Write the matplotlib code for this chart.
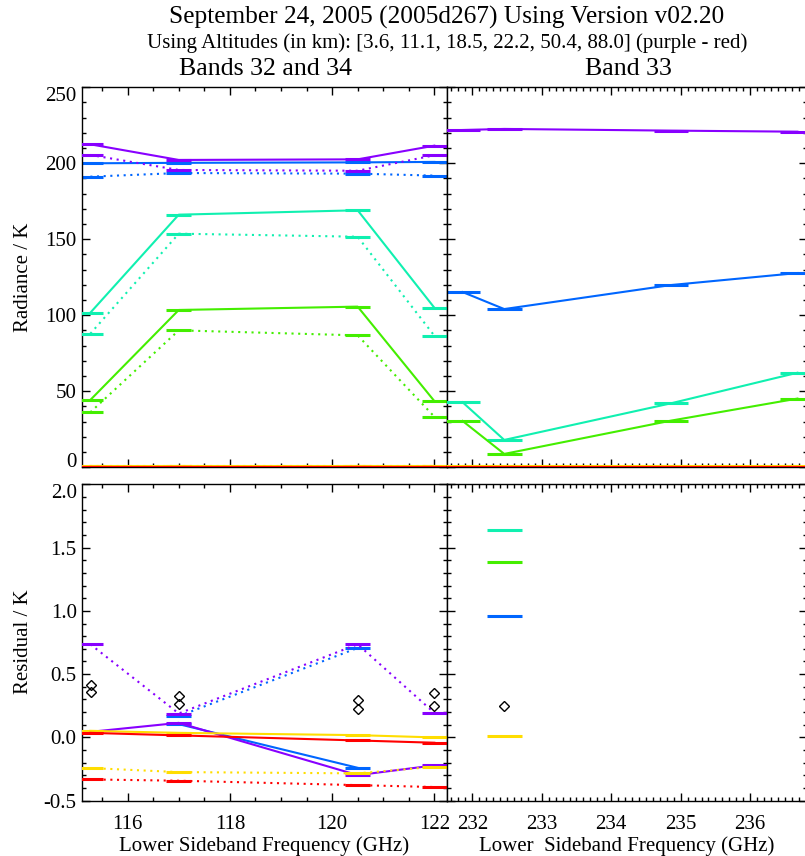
import numpy as np
import matplotlib
matplotlib.use("Agg")
import matplotlib.pyplot as plt
from matplotlib.ticker import MultipleLocator, FormatStrFormatter

plt.rcParams['font.family'] = ['Liberation Serif', 'DejaVu Serif']

# ---------------- data ----------------
colors = ['#8800ff', '#0066ff', '#10f0b0', '#44ee00', '#ffdd00', '#ff0000']  # 3.6 ... 88.0 km
altitudes = [3.6, 11.1, 18.5, 22.2, 50.4, 88.0]

freq_b3234 = [115.27, 117.0, 120.5, 122.0]
hw_b3234 = 0.245
freq_b33 = [231.86, 232.46, 234.86, 236.68]
hw_b33 = 0.25

nan = np.nan
# Radiance, bands 32/34 (solid / dotted)
rad_b3234_solid = [
    [212.5, 202.2, 202.6, 211.6],
    [200.0, 200.3, 200.6, 200.9],
    [101.7, 166.2, 169.1, 105.0],
    [44.3, 103.5, 105.7, 43.6],
    [0.6, 0.6, 0.6, 0.6],
    [0.4, 0.4, 0.4, 0.4],
]
rad_b3234_dotted = [
    [205.5, 195.6, 195.1, 205.3],
    [191.2, 193.6, 193.2, 191.9],
    [87.9, 153.7, 151.7, 86.6],
    [36.2, 90.1, 86.8, 33.3],
    [0.6, 0.6, 0.6, 0.6],
    [0.4, 0.4, 0.4, 0.4],
]
# Radiance, band 33
rad_b33_solid = [
    [221.9, 222.6, 221.5, 220.8],
    [115.3, 104.1, 119.9, 127.8],
    [42.8, 18.0, 42.1, 62.2],
    [30.5, 8.8, 30.7, 45.2],
    [0.6, 0.6, 0.6, 0.6],
    [0.4, 0.4, 0.4, 0.4],
]
# Residuals, bands 32/34
res_b3234_solid = [
    [0.044, 0.115, -0.298, -0.221],
    [nan, 0.105, -0.24, nan],
    [nan, nan, nan, nan],
    [nan, nan, nan, nan],
    [0.052, 0.036, 0.018, 0.0],
    [0.036, 0.016, -0.024, -0.042],
]
res_b3234_dotted = [
    [0.736, 0.189, 0.736, 0.194],
    [nan, 0.168, 0.707, nan],
    [nan, nan, nan, nan],
    [nan, nan, nan, nan],
    [-0.242, -0.274, -0.284, -0.232],
    [-0.332, -0.342, -0.377, -0.392],
]
diam_b3234_x = [115.29, 115.29, 117.0, 117.0, 120.5, 120.5, 122.0, 122.0]
diam_b3234_y = [0.413, 0.36, 0.326, 0.268, 0.294, 0.221, 0.352, 0.247]

# Residuals, band 33 (single channel)
res_b33_freq = [232.46]
res_b33_vals = [nan, 0.957, 1.637, 1.389, 0.010, nan]
diam_b33_x = [232.46]
diam_b33_y = [0.247]

# ---------------- figure ----------------
W, H = 805, 856
fig = plt.figure(figsize=(W / 100, H / 100), dpi=100)

def frac(x0, y0, x1, y1):
    return [x0 / W, 1 - y1 / H, (x1 - x0) / W, (y1 - y0) / H]

ax_tl = fig.add_axes(frac(82.3, 87.3, 446.8, 467.3))
ax_tr = fig.add_axes(frac(446.8, 87.3, 807.0, 467.3))
ax_bl = fig.add_axes(frac(82.3, 484.3, 446.8, 800.7))
ax_br = fig.add_axes(frac(446.8, 484.3, 807.0, 800.7))

dotted = (0, (1, 2.2))
LW = 1.5

def draw_series(ax, freqs, hw, vals, ls, z, col):
    v = np.array(vals, dtype=float)
    f = np.array(freqs, dtype=float)
    ax.plot(f, v, color=col, lw=LW, ls=ls, zorder=z)
    ok = ~np.isnan(v)
    ax.hlines(v[ok], f[ok] - hw, f[ok] + hw, color=col, lw=2.2, zorder=z)

order = [1, 0, 2, 3, 4, 5]
zs = {1: 2, 0: 3, 2: 4, 3: 5, 4: 6, 5: 7}
for i in order:
    col = colors[i]
    draw_series(ax_tl, freq_b3234, hw_b3234, rad_b3234_dotted[i], dotted, zs[i], col)
    draw_series(ax_tl, freq_b3234, hw_b3234, rad_b3234_solid[i], '-', zs[i], col)
    draw_series(ax_tr, freq_b33, hw_b33, rad_b33_solid[i], '-', zs[i], col)
    draw_series(ax_bl, freq_b3234, hw_b3234, res_b3234_dotted[i], dotted, zs[i], col)
    draw_series(ax_bl, freq_b3234, hw_b3234, res_b3234_solid[i], '-', zs[i], col)
    if not np.isnan(res_b33_vals[i]):
        draw_series(ax_br, res_b33_freq, hw_b33, [res_b33_vals[i]], '-', zs[i], col)

ax_bl.plot(diam_b3234_x, diam_b3234_y, ls='none', marker='D', ms=5.5,
           mfc='none', mec='black', mew=1.0, zorder=10)
ax_br.plot(diam_b33_x, diam_b33_y, ls='none', marker='D', ms=5.5,
           mfc='none', mec='black', mew=1.0, zorder=10)

for ax in (ax_tl, ax_tr):
    ax.set_ylim(0, 250)
    ax.yaxis.set_major_locator(MultipleLocator(50))
    ax.yaxis.set_minor_locator(MultipleLocator(10))
for ax in (ax_bl, ax_br):
    ax.set_ylim(-0.5, 2.0)
    ax.yaxis.set_major_locator(MultipleLocator(0.5))
    ax.yaxis.set_minor_locator(MultipleLocator(0.1))
for ax in (ax_tl, ax_bl):
    ax.set_xlim(115.113, 122.244)
    ax.xaxis.set_major_locator(MultipleLocator(2))
    ax.xaxis.set_minor_locator(MultipleLocator(0.5))
for ax in (ax_tr, ax_br):
    ax.set_xlim(231.633, 236.818)
    ax.xaxis.set_major_locator(MultipleLocator(1))
    ax.xaxis.set_minor_locator(MultipleLocator(0.1))

for ax in (ax_tl, ax_tr, ax_bl, ax_br):
    ax.tick_params(which='both', direction='in', top=True, right=True,
                   labelsize=15, width=1.0)
    ax.tick_params(which='major', length=5.5)
    ax.tick_params(which='minor', length=3)
    ax.tick_params(axis='x', pad=10)
    ax.tick_params(axis='y', pad=4)
    for s in ax.spines.values():
        s.set_linewidth(1.0)

ax_tl.tick_params(labelbottom=False)
ax_tr.tick_params(labelbottom=False, labelleft=False)
ax_br.tick_params(labelleft=False)

ax_bl.yaxis.set_major_formatter(FormatStrFormatter('%.1f'))

ax_bl.set_xlabel('Lower Sideband Frequency (GHz)', fontsize=15, labelpad=2)
ax_br.set_xlabel('Lower  Sideband Frequency (GHz)', fontsize=15, labelpad=2)
fig.text(24 / W, 1 - 277 / H, 'Radiance / K', rotation=90, fontsize=15,
         ha='center', va='center')
fig.text(24 / W, 1 - 642 / H, 'Residual / K', rotation=90, fontsize=15,
         ha='center', va='center')

fig.text(447 / W, 1 - 17 / H, 'September 24, 2005 (2005d267) Using Version v02.20',
         fontsize=18.3, ha='center', va='center')
fig.text(447 / W, 1 - 43 / H,
         'Using Altitudes (in km): [3.6, 11.1, 18.5, 22.2, 50.4, 88.0] (purple - red)',
         fontsize=15, ha='center', va='center')
fig.text(265 / W, 1 - 69 / H, 'Bands 32 and 34', fontsize=18.6, ha='center', va='center')
fig.text(628 / W, 1 - 69 / H, 'Band 33', fontsize=18.6, ha='center', va='center')

# IDL-like placement of some end tick labels (pulled inside the axis range)
fig.canvas.draw()
lo, hi = ax_tl.get_ylim()
for t in ax_tl.yaxis.get_major_ticks():
    loc = t.get_loc()
    if abs(loc - lo) < 1e-6:
        t.label1.set_va('baseline')
    elif abs(loc - hi) < 1e-6:
        t.label1.set_va('top')
lo, hi = ax_bl.get_ylim()
for t in ax_bl.yaxis.get_major_ticks():
    if abs(t.get_loc() - hi) < 1e-6:
        t.label1.set_va('top')

fig.savefig('out.png', dpi=100)
